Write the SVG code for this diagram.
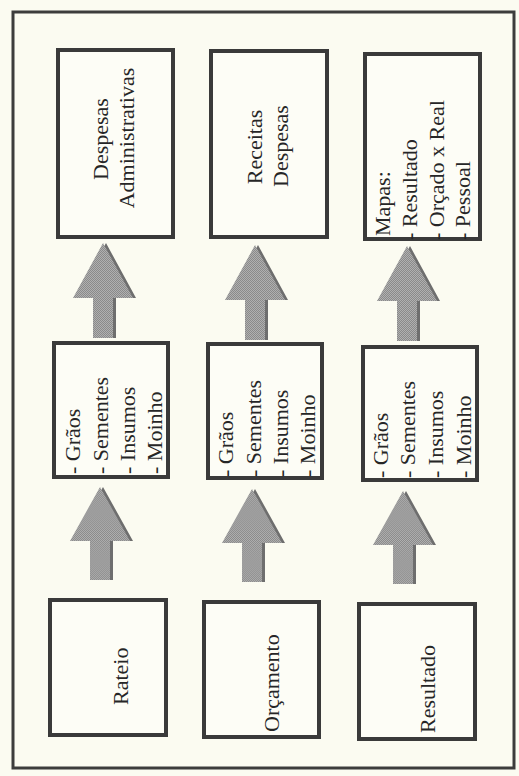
<svg xmlns="http://www.w3.org/2000/svg" width="519" height="776" viewBox="0 0 519 776">
<style>
.bg{fill:#fbfbf1}
.frame{fill:none;stroke:#3c3c3c;stroke-width:3}
.box{fill:#fdfdf6;stroke:#3a3a3a;stroke-width:4}
.t{font-family:"Liberation Serif","Times New Roman",serif;font-size:22px;fill:#262626}
.m{text-anchor:middle}
.shadow{fill:#6e6e6e}
.arrow{fill:url(#dither)}
</style>
<defs>
<pattern id="dither" width="2" height="2" patternUnits="userSpaceOnUse">
<rect width="2" height="2" fill="#b0b0b0"/>
<rect x="0" y="0" width="1" height="1" fill="#8a8a8a"/>
<rect x="1" y="1" width="1" height="1" fill="#8a8a8a"/>
</pattern>
<polygon id="arrowShape" points="0,0 30,55 10,55 10,95 -10,95 -10,55 -30,55"/>
</defs>
<rect class="bg" x="0" y="0" width="519" height="776"/>
<rect class="frame" x="13" y="12" width="501" height="756"/>

<g id="connectors">
<g transform="translate(103,243)"><use href="#arrowShape" class="shadow" x="3"/><use href="#arrowShape" class="arrow"/></g>
<g transform="translate(255,245)"><use href="#arrowShape" class="shadow" x="3"/><use href="#arrowShape" class="arrow"/></g>
<g transform="translate(407,246)"><use href="#arrowShape" class="shadow" x="3"/><use href="#arrowShape" class="arrow"/></g>
<g transform="translate(100,487) scale(1,0.98)"><use href="#arrowShape" class="shadow" x="3"/><use href="#arrowShape" class="arrow"/></g>
<g transform="translate(252,489) scale(1,0.98)"><use href="#arrowShape" class="shadow" x="3"/><use href="#arrowShape" class="arrow"/></g>
<g transform="translate(403,491) scale(1,0.98)"><use href="#arrowShape" class="shadow" x="3"/><use href="#arrowShape" class="arrow"/></g>
</g>

<g id="despesas-adm">
<rect class="box" x="58" y="50" width="115" height="187"/>
<text class="t m" transform="translate(108,139) rotate(-90)">Despesas</text>
<text class="t m" transform="translate(134,138) rotate(-90)">Administrativas</text>
</g>
<g id="receitas-despesas">
<rect class="box" x="211" y="51" width="116" height="186"/>
<text class="t m" transform="translate(262,147) rotate(-90)">Receitas</text>
<text class="t m" transform="translate(288,146) rotate(-90)">Despesas</text>
</g>
<g id="mapas">
<rect class="box" x="365" y="54" width="115" height="185"/>
<text class="t" transform="translate(390,236) rotate(-90)">Mapas:</text>
<text class="t" transform="translate(417,240) rotate(-90)">- Resultado</text>
<text class="t" transform="translate(444,240) rotate(-90)">- Orçado x Real</text>
<text class="t" transform="translate(470,240) rotate(-90)">- Pessoal</text>
</g>

<g id="itens-1">
<rect class="box" x="54" y="343" width="114" height="134"/>
<text class="t" transform="translate(80,474) rotate(-90)">- Grãos</text>
<text class="t" transform="translate(108,474) rotate(-90)">- Sementes</text>
<text class="t" transform="translate(135,474) rotate(-90)">- Insumos</text>
<text class="t" transform="translate(162,474) rotate(-90)">- Moinho</text>
</g>
<g id="itens-2">
<rect class="box" x="208" y="344" width="114" height="134"/>
<text class="t" transform="translate(233,477) rotate(-90)">- Grãos</text>
<text class="t" transform="translate(261,477) rotate(-90)">- Sementes</text>
<text class="t" transform="translate(288,477) rotate(-90)">- Insumos</text>
<text class="t" transform="translate(315,477) rotate(-90)">- Moinho</text>
</g>
<g id="itens-3">
<rect class="box" x="363" y="347" width="114" height="133"/>
<text class="t" transform="translate(388,478) rotate(-90)">- Grãos</text>
<text class="t" transform="translate(415,478) rotate(-90)">- Sementes</text>
<text class="t" transform="translate(443,478) rotate(-90)">- Insumos</text>
<text class="t" transform="translate(471,478) rotate(-90)">- Moinho</text>
</g>

<g id="rateio">
<rect class="box" x="50" y="600" width="116" height="135"/>
<text class="t" transform="translate(128,705) rotate(-90)">Rateio</text>
</g>
<g id="orcamento">
<rect class="box" x="204" y="602" width="115" height="135"/>
<text class="t" transform="translate(279,732) rotate(-90)">Orçamento</text>
</g>
<g id="resultado">
<rect class="box" x="359" y="604" width="116" height="135"/>
<text class="t" transform="translate(435,733) rotate(-90)">Resultado</text>
</g>
</svg>
